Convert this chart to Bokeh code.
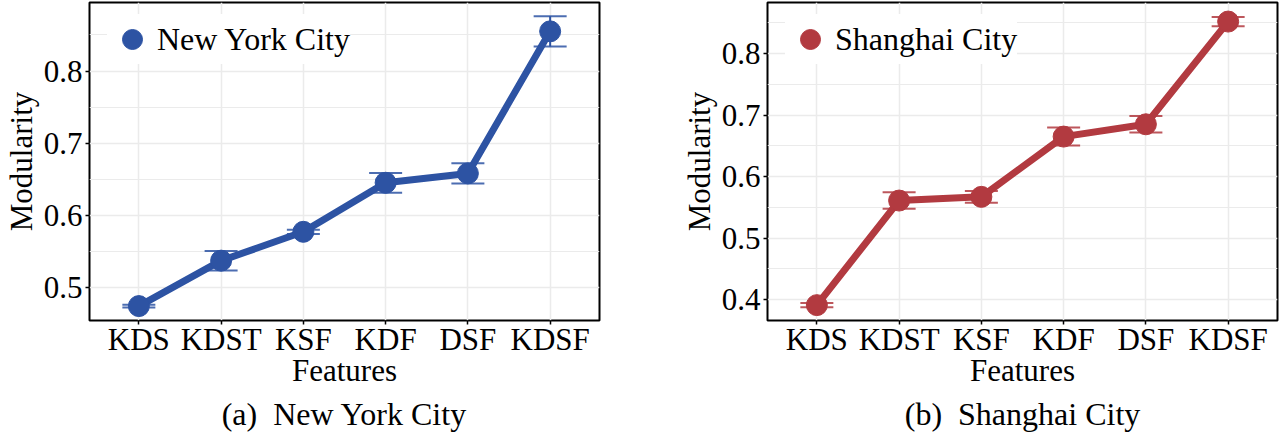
from bokeh.plotting import figure
from bokeh.layouts import row
from bokeh.models import (FactorRange, Range1d, FixedTicker, Whisker, TeeHead,
                          ColumnDataSource, Legend, LegendItem, Title)
from bokeh.embed import file_html
from bokeh.resources import INLINE

features = ["KDS", "KDST", "KSF", "KDF", "DSF", "KDSF"]

nyc_modularity = [0.474, 0.537, 0.577, 0.645, 0.658, 0.855]
nyc_error = [0.002, 0.0135, 0.003, 0.0137, 0.014, 0.021]

sh_modularity = [0.391, 0.561, 0.567, 0.665, 0.685, 0.852]
sh_error = [0.0035, 0.0135, 0.0095, 0.0146, 0.0135, 0.0075]

nyc_ticks = [0.5, 0.6, 0.7, 0.8]
nyc_minor = [0.45, 0.55, 0.65, 0.75, 0.85]
sh_ticks = [0.4, 0.5, 0.6, 0.7, 0.8]
sh_minor = [0.35, 0.45, 0.55, 0.65, 0.75, 0.85]

FONT = "Liberation Serif"


def panel(name, caption, vals, errs, color, y_start, y_end, ticks, minor,
          width, bl, br):
    src = ColumnDataSource(dict(
        x=features, y=vals,
        upper=[v + e for v, e in zip(vals, errs)],
        lower=[v - e for v, e in zip(vals, errs)],
    ))
    p = figure(x_range=FactorRange(*features, range_padding=0.1,
                                   range_padding_units="absolute"),
               y_range=Range1d(y_start, y_end),
               width=width, height=443, output_backend="svg",
               toolbar_location=None,
               min_border_left=bl, min_border_right=br,
               min_border_top=2, min_border_bottom=123)
    p.background_fill_color = "white"
    p.border_fill_color = "white"
    p.outline_line_color = "black"
    p.outline_line_width = 2
    p.outline_line_alpha = 1

    p.yaxis.ticker = FixedTicker(ticks=ticks, minor_ticks=minor)
    for ax in (p.xaxis, p.yaxis):
        ax.axis_line_color = None
        ax.major_tick_in = 0
        ax.major_tick_out = 4
        ax.major_tick_line_color = "black"
        ax.major_tick_line_width = 1.5
        ax.minor_tick_in = 0
        ax.minor_tick_out = 0
        ax.major_label_text_font = FONT
        ax.major_label_text_font_size = "31px"
        ax.major_label_text_color = "black"
        ax.axis_label_text_font = FONT
        ax.axis_label_text_font_size = "31px"
        ax.axis_label_text_font_style = "normal"
        ax.axis_label_text_color = "black"
    p.yaxis.major_label_standoff = 3
    p.yaxis.axis_label_standoff = 2
    p.xaxis.major_label_standoff = -3
    p.xaxis.axis_label_standoff = -7
    p.xaxis.axis_label = "Features"
    p.yaxis.axis_label = "Modularity"

    p.xgrid.grid_line_color = "#EBEBEB"
    p.xgrid.grid_line_width = 1.5
    p.ygrid.grid_line_color = "#EBEBEB"
    p.ygrid.grid_line_width = 1.5
    p.ygrid.minor_grid_line_color = "#EBEBEB"
    p.ygrid.minor_grid_line_width = 1.2

    p.add_layout(Whisker(source=src, base="x", upper="upper", lower="lower",
                         line_color=color, line_width=2,
                         upper_head=TeeHead(size=33, line_color=color,
                                            line_width=2, line_alpha=0.85),
                         lower_head=TeeHead(size=33, line_color=color,
                                            line_width=2, line_alpha=0.85)))
    p.line(x="x", y="y", source=src, line_width=7, line_color=color)
    r = p.scatter(x="x", y="y", source=src, size=21, fill_color=color,
                  line_color=color)

    legend = Legend(items=[LegendItem(label=name, renderers=[r])],
                    location=(18, 256), glyph_width=50, glyph_height=50,
                    padding=0, margin=0, label_standoff=0,
                    label_text_font=FONT, label_text_font_size="32px",
                    label_text_color="black",
                    border_line_color=None, background_fill_color="white",
                    background_fill_alpha=1)
    p.add_layout(legend)

    p.add_layout(Title(text=caption, align="center", text_font=FONT,
                       text_font_size="32px", text_font_style="normal",
                       text_color="black", standoff=6), "below")
    return p


p1 = panel("New York City", "(a)\u00a0 New York City", nyc_modularity,
           nyc_error, "#2D53A3", 0.454, 0.895, nyc_ticks, nyc_minor,
           643, 87, 44)
p2 = panel("Shanghai City", "(b)\u00a0 Shanghai City", sh_modularity,
           sh_error, "#B23A40", 0.366, 0.883, sh_ticks, sh_minor,
           644, 124, 10)

layout = row(p1, p2)
open("out.html", "w").write(file_html(layout, INLINE))
